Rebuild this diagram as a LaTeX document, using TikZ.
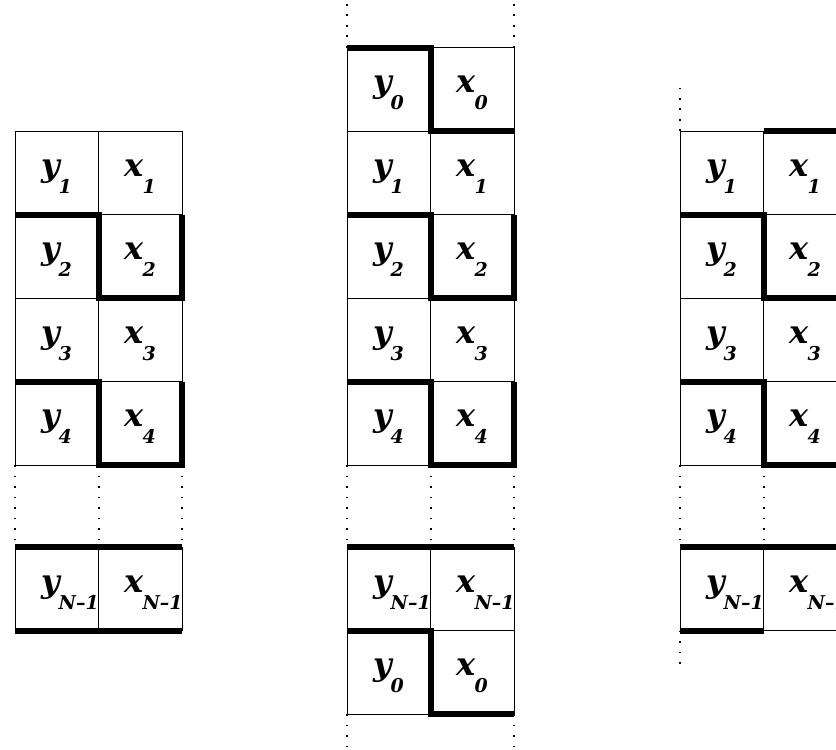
\documentclass[tikz,border=0pt]{standalone}
\usepackage{fontspec}
\setmainfont{DejaVu Serif}
\usepackage{tikz}

% bold italic letter with a lowered index, set flush left in a fixed box
\newcommand{\lbl}[2]{\makebox[15.5pt][l]{{\fontsize{16}{16}\selectfont\bfseries\itshape #1}\kern-0.6pt\raisebox{-8.5pt}{\fontsize{9.5}{9.5}\selectfont\bfseries\itshape #2}}}

\begin{document}
\begin{tikzpicture}[x=0.5pt, y=-0.5pt]
        \tikzstyle{cell}=[draw, line width=0.5pt, minimum width=41.75pt, minimum height=41.75pt, inner xsep=0pt, inner ysep=0pt, outer sep=0pt, text height=12pt, text depth=8.5pt]
        \tikzstyle{wall}=[line width=3pt]
        \tikzstyle{gap}=[line width=1pt, dash pattern=on 0.8pt off 4.45pt]

        \useasboundingbox (0,0) rectangle (836,750);
        \clip (0,0) rectangle (836,750);

        % Column 1 (open sequence)
        \begin{scope}[xshift=7.5pt]
            \node[cell] (ly1) at (41.75,172.75) {\lbl{y}{1}};
            \node[cell] (lx1) at (125.25,172.75) {\lbl{x}{1}};
            \node[cell] (ly2) at (41.75,256.25) {\lbl{y}{2}};
            \node[cell] (lx2) at (125.25,256.25) {\lbl{x}{2}};
            \node[cell] (ly3) at (41.75,339.75) {\lbl{y}{3}};
            \node[cell] (lx3) at (125.25,339.75) {\lbl{x}{3}};
            \node[cell] (ly4) at (41.75,423.25) {\lbl{y}{4}};
            \node[cell] (lx4) at (125.25,423.25) {\lbl{x}{4}};
            \node[cell] (lyN) at (41.75,588.75) {\lbl{y}{N--1}};
            \node[cell] (lxN) at (125.25,588.75) {\lbl{x}{N--1}};

            % Steps
            \draw[wall] (ly2.north west) -- (ly2.north east) -- (lx2.south west) -- (lx2.south east) -- (lx2.north east);
            \draw[wall] (ly4.north west) -- (ly4.north east) -- (lx4.south west) -- (lx4.south east) -- (lx4.north east);
            \draw[wall] (lyN.north west) -- (lxN.north east);
            \draw[wall] (lyN.south west) -- (lxN.south east);

            % Skipped rows
            \draw[gap] (ly4.south west) -- (lyN.north west);
            \draw[gap] (ly4.south east) -- (lyN.north east);
            \draw[gap] (lx4.south east) -- (lxN.north east);
        \end{scope}

        % Column 2 (wrapped round to index 0)
        \begin{scope}[xshift=173.5pt]
            \coordinate (mtopl) at (0,0);
            \coordinate (mtopr) at (167,0);
            \coordinate (mbotl) at (0,750);
            \coordinate (mbotr) at (167,750);

            \node[cell] (my0) at (41.75,89.25) {\lbl{y}{0}};
            \node[cell] (mx0) at (125.25,89.25) {\lbl{x}{0}};
            \node[cell] (my1) at (41.75,172.75) {\lbl{y}{1}};
            \node[cell] (mx1) at (125.25,172.75) {\lbl{x}{1}};
            \node[cell] (my2) at (41.75,256.25) {\lbl{y}{2}};
            \node[cell] (mx2) at (125.25,256.25) {\lbl{x}{2}};
            \node[cell] (my3) at (41.75,339.75) {\lbl{y}{3}};
            \node[cell] (mx3) at (125.25,339.75) {\lbl{x}{3}};
            \node[cell] (my4) at (41.75,423.25) {\lbl{y}{4}};
            \node[cell] (mx4) at (125.25,423.25) {\lbl{x}{4}};
            \node[cell] (myN) at (41.75,588.75) {\lbl{y}{N--1}};
            \node[cell] (mxN) at (125.25,588.75) {\lbl{x}{N--1}};
            \node[cell] (myb) at (41.75,672.25) {\lbl{y}{0}};
            \node[cell] (mxb) at (125.25,672.25) {\lbl{x}{0}};

            % Steps
            \draw[wall] (my0.north west) -- (my0.north east) -- (mx0.south west) -- (mx0.south east);
            \draw[wall] (my2.north west) -- (my2.north east) -- (mx2.south west) -- (mx2.south east) -- (mx2.north east);
            \draw[wall] (my4.north west) -- (my4.north east) -- (mx4.south west) -- (mx4.south east) -- (mx4.north east);
            \draw[wall] (myN.north west) -- (mxN.north east);
            \draw[wall] (myb.north west) -- (myb.north east) -- (mxb.south west) -- (mxb.south east);

            % Skipped rows
            \draw[gap] (my0.north west) -- (mtopl);
            \draw[gap] (mx0.north east) -- (mtopr);
            \draw[gap] (my4.south west) -- (myN.north west);
            \draw[gap] (my4.south east) -- (myN.north east);
            \draw[gap] (mx4.south east) -- (mxN.north east);
            \draw[gap] (myb.south west) -- (mbotl);
            \draw[gap] (mxb.south east) -- (mbotr);
        \end{scope}

        % Column 3 (shifted steps)
        \begin{scope}[xshift=340pt]
            \coordinate (rtop) at (0,88);
            \coordinate (rbot) at (0,666);

            \node[cell] (ry1) at (41.75,172.75) {\lbl{y}{1}};
            \node[cell] (rx1) at (125.25,172.75) {\lbl{x}{1}};
            \node[cell] (ry2) at (41.75,256.25) {\lbl{y}{2}};
            \node[cell] (rx2) at (125.25,256.25) {\lbl{x}{2}};
            \node[cell] (ry3) at (41.75,339.75) {\lbl{y}{3}};
            \node[cell] (rx3) at (125.25,339.75) {\lbl{x}{3}};
            \node[cell] (ry4) at (41.75,423.25) {\lbl{y}{4}};
            \node[cell] (rx4) at (125.25,423.25) {\lbl{x}{4}};
            \node[cell] (ryN) at (41.75,588.75) {\lbl{y}{N--1}};
            \node[cell] (rxN) at (125.25,588.75) {\lbl{x}{N--1}};

            % Steps
            \draw[wall] (rx1.north west) -- (rx1.north east);
            \draw[wall] (ry2.north west) -- (ry2.north east) -- (rx2.south west) -- (rx2.south east) -- (rx2.north east);
            \draw[wall] (ry4.north west) -- (ry4.north east) -- (rx4.south west) -- (rx4.south east) -- (rx4.north east);
            \draw[wall] (ryN.north west) -- (rxN.north east);
            \draw[wall] (ryN.south west) -- (ryN.south east);

            % Skipped rows
            \draw[gap] (ry1.north west) -- (rtop);
            \draw[gap] (ry4.south west) -- (ryN.north west);
            \draw[gap] (ry4.south east) -- (ryN.north east);
            \draw[gap] (rx4.south east) -- (rxN.north east);
            \draw[gap] (ryN.south west) -- (rbot);
        \end{scope}
\end{tikzpicture}
\end{document}
